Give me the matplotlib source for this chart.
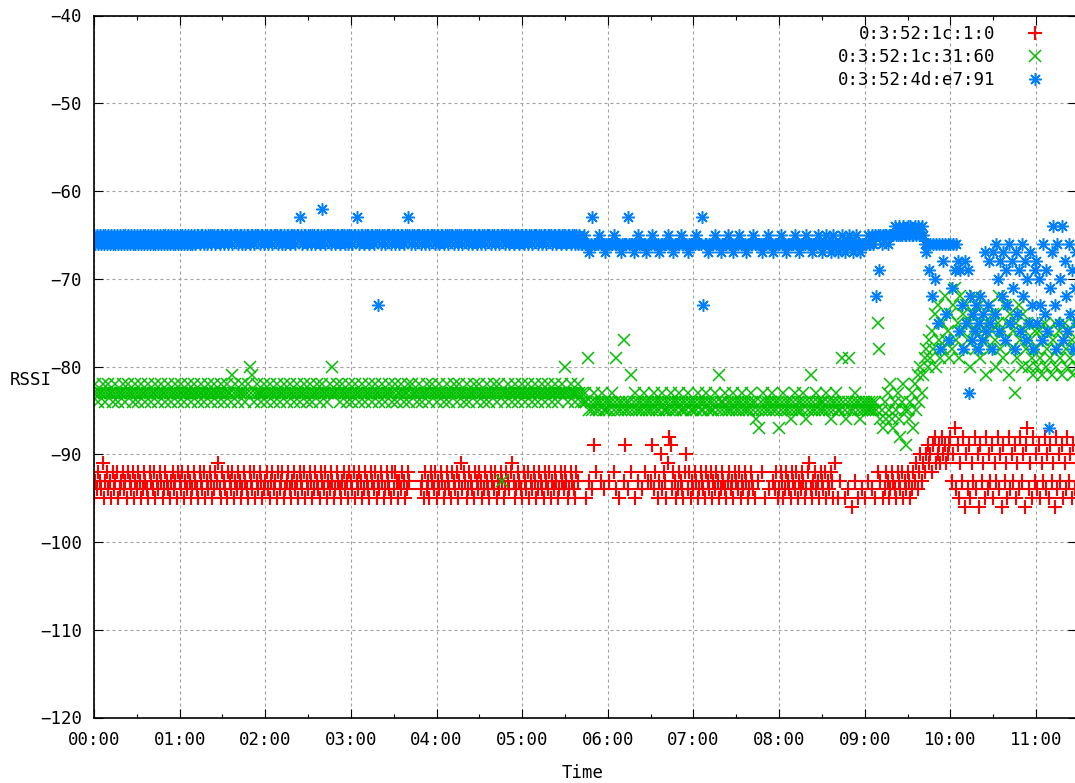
import numpy as np
import matplotlib
matplotlib.use("Agg")
import matplotlib.pyplot as plt
from matplotlib.ticker import FixedLocator, FuncFormatter

# Logger takes one reading per device per minute, starting at 00:00
SAMPLE_STEP_MIN = 1

series_labels = ["0:3:52:1c:1:0", "0:3:52:1c:31:60", "0:3:52:4d:e7:91"]
series_colors = ["#ff0000", "#00c000", "#0080ff"]

# RSSI readings (dBm), one row per half hour; None = no reading
rssi_red = [
    -95, -93, -94, -92, -93, -94, -91, -95, -93, -92, -94, -93, -95, -92, -94, -93, -92, -95, -94, -93, -92, -94, -93, -95, -92, -93, -94, -92, -95, -93,
    -94, -92, -93, -95, -94, -92, -93, -94, -95, -92, -93, -94, -92, -95, -93, -94, -92, -93, -95, -94, -92, -93, -94, -95, -93, -92, -94, -93, -95, -92,
    -93, -94, -92, -95, -93, -94, -92, -93, -95, -94, -92, -93, -94, -95, -92, -93, -94, -92, -95, -93, -94, -92, -93, -95, -94, -92, -93, -91, -94, -95,
    -92, -93, -94, -95, -92, -93, -94, -92, -95, -93, -94, -92, -93, -95, -94, -92, -93, -94, -95, -92, -93, -94, -92, -95, -93, -94, -92, -93, -95, -94,
    -93, -92, -94, -95, -93, -92, -94, -93, -95, -92, -94, -93, -92, -95, -94, -93, -92, -94, -95, -93, -92, -94, -93, -95, -92, -93, -94, -92, -95, -93,
    -94, -92, -93, -95, -94, -92, -93, -94, -95, -92, -93, -94, -92, -95, -93, -94, -92, -93, -95, -94, -92, -93, -94, -95, -93, -92, -94, -93, -95, -92,
    -93, -94, -92, -95, -93, -94, -92, -93, -95, -94, -92, -93, -94, -95, -92, -93, -94, -92, -95, -93, -94, -92, -93, -95, -94, -92, -93, -94, -95, -92,
    -94, -92, -93, -95, -93, -94, -92, -93, -95, -94, -92, -93, None, None, None, None, None, None, None, -94, -93, -95, -92, -94, -93, -95, -92, -93, -94, -92,
    -95, -93, -94, -92, -93, -95, -94, -92, -93, -94, -95, -92, -93, -94, -92, -95, -93, -91, -94, -92, -93, -95, -94, -92, -93, -94, -95, -92, -93, -94,
    -92, -93, -95, -94, -92, -93, -94, -95, -92, -93, -94, -92, -95, -93, -94, -92, -93, -95, -94, -92, -93, -94, -92, -91, -93, -95, -94, -92, -93, -94,
    -95, -92, -93, -94, -92, -95, -93, -94, -92, -93, -95, -94, -92, -93, -94, -95, -92, -93, -94, -92, -95, -93, -94, -92, -93, -95, -94, -92, -93, -94,
    -92, -93, -95, -94, -92, -93, -94, -95, -92, -93, None, None, None, None, None, -95, None, -93, None, -94, -89, None, -92, None, None, -93, None, -94, None, None,
    None, -93, None, None, -92, None, -94, None, -95, None, None, -93, -89, None, -94, None, -92, None, None, -95, None, -93, None, None, -94, None, -92, None, -93, None,
    -93, -89, -94, -92, None, -95, -93, -90, -94, -92, -93, -95, -91, -88, -89, -94, -92, -93, -95, -94, -92, -93, -94, -95, -92, -90, -94, -92, -95, -93,
    -94, -92, -93, -95, -94, -92, -93, -94, -95, -92, -93, -94, -92, -95, -93, -94, -92, -93, -95, -94, -92, -93, -94, -95, -93, -92, -94, -93, -95, -92,
    -93, -94, -92, -95, -93, -94, -92, -93, -95, -94, -92, -93, -94, -95, None, -93, None, None, -92, None, -95, None, None, -94, None, None, -93, -94, -92, -95,
    -94, -92, -93, -95, -94, -92, -93, -94, -95, -92, -93, -94, -92, -95, -93, -94, -92, -93, -95, -94, -92, -91, -94, -95, -93, -92, -94, -93, -95, -92,
    -93, -94, -92, -95, -93, -94, -92, -93, -95, -91, None, -95, None, -93, None, None, -95, None, -94, None, None, -96, None, -93, None, -95, None, None, -94, None,
    -95, None, -93, None, None, -94, None, -95, None, -92, None, -93, None, -95, -94, -92, -93, -95, -94, -92, -93, -94, -95, -92, -93, -94, -92, -95, -93, -94,
    -92, -93, -95, -94, -92, -93, -91, -94, -92, -90, -93, -91, -92, -90, -89, -91, -90, -92, -89, -88, -91, -90, -89, -91, -88, -90, -89, -91, -90, -89,
    -88, -93, -90, -87, -94, -89, -95, -91, -93, -88, -96, -90, -94, -89, -95, -91, -93, -88, -94, -90, -96, -89, -93, -91, -95, -88, -94, -90, -93, -89,
    -95, -91, -93, -88, -94, -90, -96, -89, -93, -91, -95, -88, -94, -90, -93, -89, -95, -91, -94, -88, -93, -90, -96, -89, -87, -94, -91, -95, -88, -93,
    -90, -94, -89, -95, -91, -93, -88, -94, -90, -95, -89, -93, -91, -96, -88, -94, -90, -93, -89, -95, -91, -94, -88, -93, -90, -95, -89, -94, -91, -93,
]

rssi_green = [
    -83, -82, -83, -84, -83, -83, -82, -83, -84, -83, -82, -83, -83, -84, -83, -82, -83, -84, -83, -83, -82, -83, -84, -83, -82, -83, -83, -84, -83, -82,
    -83, -84, -83, -82, -83, -83, -84, -83, -82, -83, -84, -83, -83, -82, -83, -84, -83, -82, -83, -83, -84, -83, -82, -83, -84, -83, -83, -82, -83, -84,
    -83, -82, -83, -84, -83, -83, -82, -83, -84, -83, -82, -83, -83, -84, -83, -82, -83, -84, -83, -83, -82, -83, -84, -83, -82, -83, -83, -84, -83, -82,
    -83, -84, -83, -82, -83, -83, -84, -81, -83, -82, -83, -84, -83, -83, -82, -83, -84, -83, -82, -80, -83, -81, -84, -83, -82, -83, -83, -84, -83, -82,
    -83, -84, -83, -82, -83, -83, -84, -83, -82, -83, -84, -83, -83, -82, -83, -84, -83, -82, -83, -83, -84, -83, -82, -83, -84, -83, -83, -82, -83, -84,
    -83, -82, -83, -84, -83, -83, -82, -83, -84, -83, -82, -83, -83, -84, -83, -82, -83, -80, -83, -83, -82, -83, -84, -83, -82, -83, -83, -84, -83, -82,
    -83, -84, -83, -82, -83, -83, -84, -83, -82, -83, -84, -83, -83, -82, -83, -84, -83, -82, -83, -83, -84, -83, -82, -83, -84, -83, -83, -82, -83, -84,
    -83, -82, -84, -83, -83, -82, -83, -84, -83, -83, -82, -84, -83, -82, -83, -83, -84, -83, -82, -83, -84, -83, -83, -82, -83, -84, -83, -82, -83, -83,
    -84, -83, -82, -83, -83, -84, -83, -82, -83, -84, -83, -83, -82, -83, -84, -83, -82, -83, -83, -84, -83, -82, -83, -84, -83, -83, -82, -83, -84, -83,
    -82, -83, -83, -84, -83, -82, -83, -84, -83, -83, -82, -83, -84, -83, -82, -83, -93, -83, -84, -83, -82, -83, -83, -84, -83, -82, -83, -84, -83, -83,
    -82, -83, -84, -83, -82, -83, -83, -84, -83, -82, -83, -84, -83, -83, -82, -83, -84, -83, -82, -83, -83, -84, -83, -82, -83, -84, -83, -83, -82, -83,
    -80, -83, -84, -83, -82, -83, -83, -84, -83, -82, -83, -84, -83, -84, -83, -84, -79, -85, -84, -85, -83, -84, -85, -84, -85, -84, -83, -85, -84, -85,
    -84, -85, -84, -83, -85, -84, -79, -85, -84, -85, -84, -77, -85, -84, -85, -84, -81, -85, -84, -83, -85, -84, -85, -84, -85, -83, -84, -85, -84, -85,
    -84, -85, -83, -84, -85, -84, -85, -84, -83, -85, -84, -85, -84, -85, -83, -84, -85, -84, -85, -84, -83, -85, -84, -85, -84, -85, -83, -84, -85, -84,
    -85, -84, -85, -83, -84, -85, -84, -85, -84, -83, -85, -84, -85, -84, -85, -83, -84, -85, -81, -84, -85, -84, -83, -85, -84, -85, -84, -85, -83, -84,
    -85, -84, -85, -84, -83, -85, -84, -85, -84, -85, -83, -84, -85, -84, -86, -85, -87, -84, -85, -83, -84, -85, -84, -85, -84, -83, -85, -84, -85, -84,
    -87, -85, -84, -83, -85, -84, -85, -84, -86, -85, -84, -83, -85, -84, -85, -84, -85, -83, -84, -86, -85, -84, -81, -85, -84, -85, -83, -84, -85, -84,
    -85, -84, -85, -83, -84, -85, -86, -84, -85, -84, -83, -85, -84, -85, -79, -84, -85, -86, -84, -79, -85, -84, -85, -83, -84, -85, -84, -86, -85, -84,
    -85, -84, -85, -84, -85, -84, -85, -84, -85, -75, -78, -86, -85, -87, -84, -86, -83, -85, -82, -86, -87, -84, -85, -83, -86, -88, -84, -82, -85, -89,
    -85, -86, -84, -83, -87, -82, -85, -81, -84, -80, -83, -81, -79, -78, -80, -77, -79, -76, -78, -74, -80, -73, -77, -79, -75, -78, -72, -77, -76, -79,
    -74, -78, -73, -71, -77, -75, -79, -72, -76, -74, -78, -73, -77, -75, -80, -74, -76, -72, -78, -75, -73, -79, -76, -74, -77, -81, -75, -73, -78, -76,
    -74, -77, -80, -75, -72, -78, -76, -79, -73, -77, -75, -81, -74, -78, -76, -83, -75, -79, -73, -77, -80, -74, -76, -78, -75, -80, -77, -79, -81, -76,
    -78, -80, -76, -79, -81, -77, -75, -80, -78, -76, -79, -81, -77, -75, -80, -78, -76, -79, -81, -77, -75, -78, -80, -76, -79, -77, -81, -75, -78, -80,
]

rssi_blue = [
    -65, -66, -65, -66, -65, -66, -65, -66, -65, -66, -65, -66, -65, -66, -65, -66, -65, -66, -65, -66, -65, -66, -65, -66, -65, -66, -65, -66, -65, -66,
    -65, -66, -65, -66, -65, -66, -65, -66, -65, -66, -65, -66, -65, -66, -65, -66, -65, -66, -65, -66, -65, -66, -65, -66, -65, -66, -65, -66, -65, -66,
    -65, -66, -65, -66, -65, -66, -65, -66, -65, -66, -65, -66, -65, -65, -66, -65, -65, -66, -65, -66, -65, -65, -66, -65, -65, -66, -65, -65, -66, -65,
    -65, -66, -65, -65, -66, -65, -65, -66, -65, -65, -65, -66, -65, -65, -66, -65, -66, -65, -65, -66, -65, -65, -66, -65, -65, -65, -66, -65, -65, -66,
    -65, -65, -66, -65, -65, -66, -65, -65, -65, -66, -65, -65, -66, -65, -66, -65, -65, -66, -65, -65, -65, -66, -65, -65, -63, -65, -66, -65, -65, -66,
    -65, -65, -66, -65, -65, -66, -65, -65, -66, -65, -62, -65, -66, -65, -65, -65, -66, -65, -65, -66, -65, -65, -66, -65, -65, -65, -66, -65, -66, -65,
    -65, -66, -65, -65, -63, -65, -66, -65, -65, -66, -65, -65, -65, -66, -65, -65, -66, -65, -65, -73, -65, -66, -65, -65, -66, -65, -65, -65, -66, -65,
    -65, -66, -65, -65, -66, -65, -65, -66, -65, -65, -63, -65, -66, -65, -65, -66, -65, -65, -65, -66, -65, -65, -66, -65, -65, -66, -65, -65, -65, -66,
    -65, -65, -66, -65, -65, -66, -65, -65, -66, -65, -65, -65, -66, -65, -65, -66, -65, -65, -66, -65, -65, -65, -66, -65, -65, -66, -65, -65, -66, -65,
    -65, -66, -65, -65, -66, -65, -65, -65, -66, -65, -65, -66, -65, -65, -66, -65, -65, -65, -66, -65, -65, -66, -65, -65, -66, -65, -65, -65, -66, -65,
    -65, -66, -65, -65, -66, -65, -65, -66, -65, -65, -65, -66, -65, -65, -66, -65, -65, -66, -65, -65, -65, -66, -65, -65, -66, -65, -65, -66, -65, -65,
    -65, -66, -65, -65, -66, -65, -65, -66, -65, -66, -65, -66, -66, -65, -66, -66, -66, -67, -66, -63, -66, -66, -66, -66, -65, -66, -66, -66, -67, -66,
    -66, -66, -66, -66, -65, -66, -66, -66, -66, -67, -66, -66, -66, -66, -63, -66, -66, -66, -67, -66, -66, -65, -66, -66, -66, -66, -66, -67, -66, -66,
    -66, -65, -66, -66, -66, -66, -67, -66, -66, -66, -66, -66, -65, -66, -66, -66, -67, -66, -66, -66, -66, -65, -66, -66, -66, -66, -67, -66, -66, -66,
    -66, -66, -65, -66, -66, -66, -63, -73, -66, -66, -67, -66, -66, -66, -66, -65, -66, -66, -66, -67, -66, -66, -66, -66, -65, -66, -66, -66, -67, -66,
    -66, -66, -65, -66, -66, -66, -66, -67, -66, -66, -66, -66, -65, -66, -66, -66, -66, -66, -67, -66, -66, -66, -65, -66, -66, -66, -67, -66, -66, -66,
    -66, -65, -66, -66, -66, -67, -66, -66, -66, -66, -66, -65, -66, -66, -67, -66, -66, -66, -66, -65, -66, -66, -66, -67, -66, -66, -66, -65, -66, -66,
    -67, -66, -66, -65, -66, -66, -67, -66, -65, -66, -66, -67, -66, -66, -65, -66, -67, -66, -66, -65, -66, -66, -67, -66, -65, -66, -66, -67, -66, -66,
    -66, -66, -65, -66, -66, -65, -66, -65, -72, -65, -69, -65, -66, -65, -65, -65, -66, -65, -65, -65, -65, -64, -65, -65, -64, -65, -65, -64, -65, -65,
    -64, -65, -64, -65, -65, -64, -65, -64, -65, -65, -64, -65, -66, -67, -66, -69, -66, -72, -66, -70, -66, -75, -66, -78, -66, -68, -66, -74, -66, -77,
    -66, -71, -66, -69, -66, -68, -76, -69, -73, -78, -68, -75, -69, -83, -72, -77, -74, -76, -73, -78, -75, -72, -77, -74, -67, -76, -73, -68, -75, -78,
    -67, -74, -66, -70, -76, -68, -72, -67, -77, -69, -73, -66, -75, -68, -71, -78, -67, -74, -69, -76, -66, -72, -68, -77, -70, -75, -67, -73, -78, -69,
    -68, -75, -70, -73, -77, -66, -74, -69, -76, -87, -71, -67, -64, -73, -78, -66, -75, -70, -64, -77, -68, -72, -76, -66, -74, -69, -78, -71, -67, -75,
]

x_tick_hours = list(range(0, 12))
y_ticks = list(range(-120, -39, 10))

FONT = "DejaVu Sans Mono"
FS = 12.5

W, H = 1075, 783
fig = plt.figure(figsize=(W / 100, H / 100), dpi=100)
ax_left, ax_right, ax_top, ax_bottom = 94.0, 1077.0, 15.5, 717.5
ax = fig.add_axes([ax_left / W, 1 - ax_bottom / H,
                   (ax_right - ax_left) / W, (ax_bottom - ax_top) / H])

markers = ["+", "x", (8, 2, 0)]
marker_sizes = [9.5, 9.0, 9.0]
edge_widths = [1.5, 1.1, 1.1]
for vals, lab, col, mk, ms, mew in zip([rssi_red, rssi_green, rssi_blue],
                                        series_labels, series_colors, markers,
                                        marker_sizes, edge_widths):
    y = np.array([np.nan if v is None else v for v in vals], dtype=float)
    t = np.arange(len(y)) * SAMPLE_STEP_MIN
    ax.plot(t, y, linestyle="none", marker=mk, markersize=ms,
            markeredgewidth=mew, color=col, label=lab)

ax.set_xlim(0, (ax_right - ax_left) / 85.64 * 60)
ax.set_ylim(-120, -40)

ax.xaxis.set_major_locator(FixedLocator([h * 60 for h in x_tick_hours]))
ax.xaxis.set_minor_locator(FixedLocator([h * 60 + 30 for h in x_tick_hours]))
ax.xaxis.set_major_formatter(FuncFormatter(lambda v, p: f"{int(round(v / 60)):02d}:00"))
ax.yaxis.set_major_locator(FixedLocator(y_ticks))
ax.yaxis.set_major_formatter(FuncFormatter(lambda v, p: f"{int(v)}".replace("-", "\u2212")))

ax.tick_params(which="both", direction="in", top=True, right=True, colors="black",
               labelsize=FS, width=0.8)
ax.tick_params(which="major", length=6.2)
ax.tick_params(which="minor", length=3.0)
ax.tick_params(axis="y", pad=8.5)
ax.tick_params(axis="x", pad=10)
for lab in ax.get_xticklabels() + ax.get_yticklabels():
    lab.set_fontfamily(FONT)

for sp in ax.spines.values():
    sp.set_linewidth(1.2)

ax.set_axisbelow(True)
ax.grid(True, which="major", color="#a0a0a0", linewidth=0.8, linestyle=(0, (2.7, 2.7)))

ax.set_xlabel("Time", fontfamily=FONT, fontsize=FS)
ax.set_ylabel("RSSI", fontfamily=FONT, fontsize=FS, rotation=0)
ax.xaxis.set_label_coords((583 - ax_left) / (ax_right - ax_left), (ax_bottom - 773) / (ax_bottom - ax_top))
ax.yaxis.set_label_coords((31 - ax_left) / (ax_right - ax_left), (ax_bottom - 380) / (ax_bottom - ax_top))
ax.xaxis.label.set_va("center")
ax.yaxis.label.set_va("center")
ax.yaxis.label.set_ha("center")

ax.legend(loc="upper right", bbox_to_anchor=(1052 / W, 1 - 25 / H),
          bbox_transform=fig.transFigure, frameon=False, markerfirst=False,
          handlelength=2.0, handletextpad=1.28, labelspacing=0.3,
          borderpad=0, borderaxespad=0, prop={"family": FONT, "size": FS})

fig.savefig("out.png", dpi=100)
